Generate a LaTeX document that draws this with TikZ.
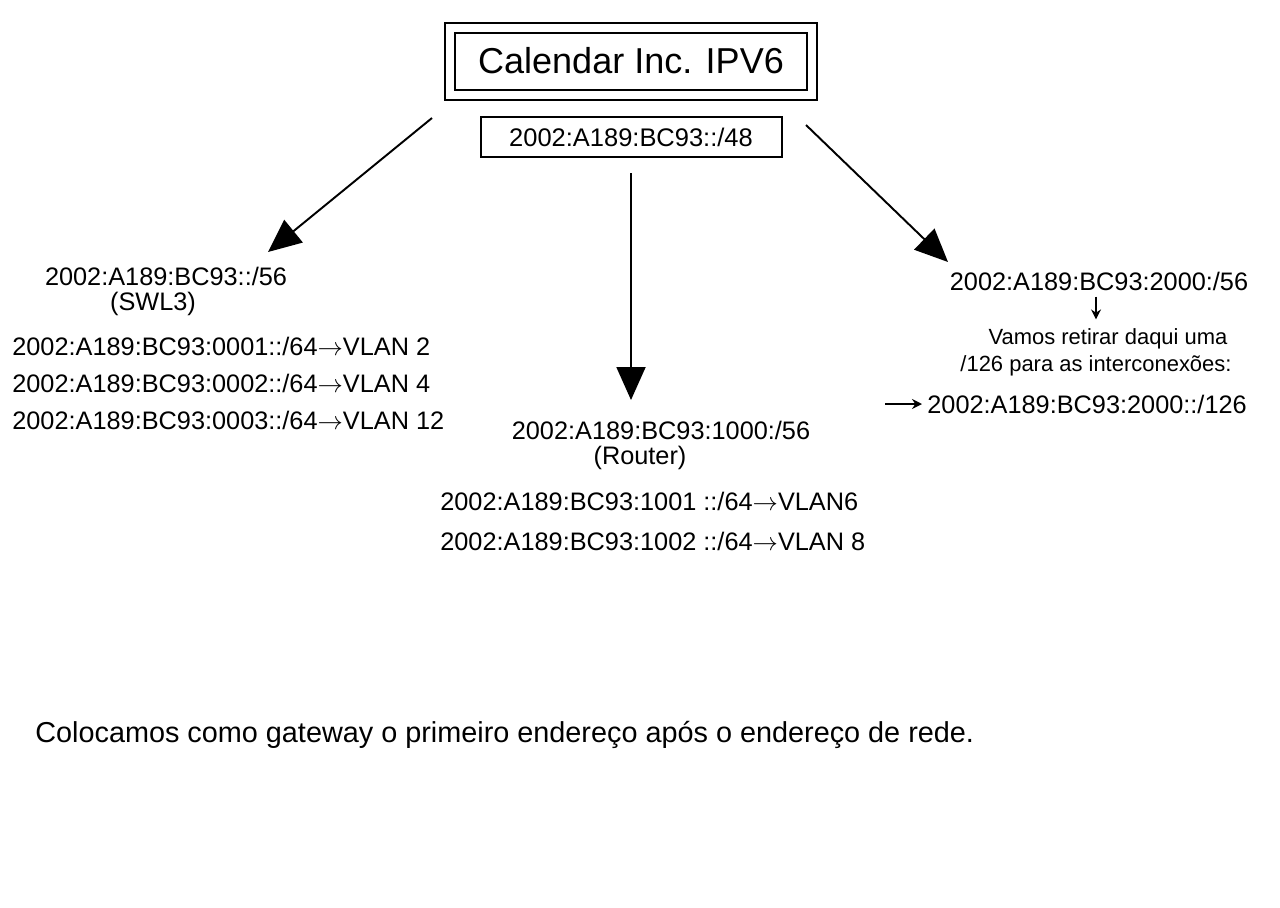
\documentclass[tikz,border=0pt]{standalone}
\usepackage{fontspec}
\setmainfont{Liberation Sans}
\usetikzlibrary{arrows.meta}
\usetikzlibrary{positioning}

\begin{document}
\begin{tikzpicture}[x=0.2mm, y=-0.2mm, addr/.style={inner sep=0pt, font=\fontsize{14.4}{16}\selectfont}]
    \tikzset{note/.style={inner sep=0pt, font=\fontsize{12.5}{14}\selectfont}}
    \tikzset{bigarrow/.style={line width=1.1pt, -{Triangle[length=6.6mm, width=5.8mm]}},
    smallarrow/.style={line width=0.8pt, -{Stealth[length=2mm, width=2mm]}}}
    \useasboundingbox (0,0) rectangle (1280,907);

    % top: company and its /48
    \node[draw, double, double distance=1.6mm, line width=0.4mm, minimum width=72.4mm, minimum height=13.4mm, font=\fontsize{20.5}{24}\selectfont] (title) at (631,61) {Calendar Inc. IPV6};
    \node[draw, line width=0.4mm, minimum width=60.2mm, minimum height=8mm, font=\fontsize{14.5}{16}\selectfont] (prefix) at (631,137) {2002:A189:BC93::/48};

    % left: SWL3
    \node[addr] (swaddr) at (166,276) {2002:A189:BC93::/56};
    \node[addr] (swnote) at (153,304) {(SWL3)};
    \foreach \i/\v in {1/2, 2/4, 3/12} {
    \node[addr, anchor=west] (sw\i) at (12, {346+37*(\i-1)}) {2002:A189:BC93:000\i::/64$\rightarrow$VLAN \v};
    }

    % middle: router
    \node[addr] (rtaddr) at (661,430) {2002:A189:BC93:1000:/56};
    \node[addr] (rtnote) at (640,458) {(Router)};
    \node[addr, anchor=west] (rt1) at (440,501) {2002:A189:BC93:1001 ::/64$\rightarrow$VLAN6};
    \node[addr, anchor=west] (rt2) at (440,541) {2002:A189:BC93:1002 ::/64$\rightarrow$VLAN 8};

    % right: interconnections
    \node[addr] (icaddr) at (1099,281) {2002:A189:BC93:2000:/56};
    \node[note] (icnote1) at (1108,339) {Vamos retirar daqui uma};
    \node[note] (icnote2) at (1096,366) {/126 para as interconexões:};
    \node[addr, anchor=west] (icnet) at (927,404) {2002:A189:BC93:2000::/126};

    % bottom remark
    \node[inner sep=0pt, anchor=west, font=\fontsize{16.4}{18}\selectfont] (gwnote) at (35,735) {Colocamos como gateway o primeiro endereço após o endereço de rede.};

    \coordinate (lfrom) at (432,118); \coordinate (lto) at (268,252);
    \coordinate (mfrom) at (631,173); \coordinate (mto) at (631,400);
    \coordinate (rfrom) at (806,125); \coordinate (rto) at (948,262);
    \coordinate (icfrom) at (885,404);

    \draw[bigarrow] (lfrom) -- (lto);
    \draw[bigarrow] (mfrom) -- (mto);
    \draw[bigarrow] (rfrom) -- (rto);
    \draw[smallarrow] ([yshift=-1.2mm]icaddr.south -| 1096,0) -- ([yshift=1.8mm]icnote1.north -| 1096,0);
    \draw[smallarrow] (icfrom) -- ([xshift=-1mm]icnet.west);
\end{tikzpicture}
\end{document}
